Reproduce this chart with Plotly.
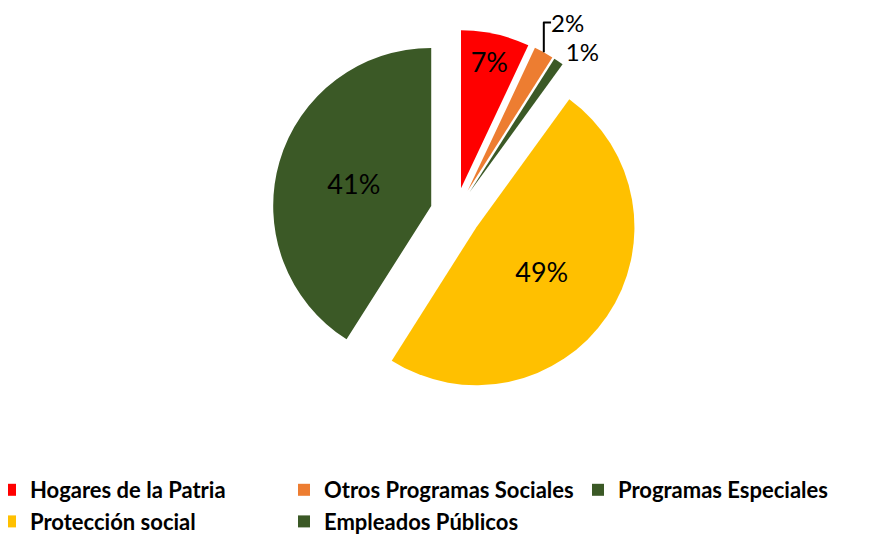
import plotly.graph_objects as go

labels = ["Hogares de la Patria", "Otros Programas Sociales", "Programas Especiales",
          "Protección social", "Empleados Públicos"]
values = [7, 2, 1, 49, 41]
colors = ["#FF0000", "#ED7D31", "#3B5926", "#FFC000", "#3B5926"]
positions = ["inside", "outside", "outside", "inside", "inside"]

W, H = 878, 541
MB = 80
PH = H - MB

fig = go.Figure()
fig.add_trace(go.Pie(
    labels=labels,
    values=values,
    sort=False,
    direction="clockwise",
    rotation=0,
    pull=0.16,
    marker=dict(colors=colors, line=dict(width=0)),
    texttemplate="%{percent:.0%}",
    textposition=positions,
    insidetextorientation="horizontal",
    textfont=dict(family="Lato, Liberation Sans, sans-serif", size=27, color="#000000"),
    outsidetextfont=dict(family="Lato, Liberation Sans, sans-serif", size=24, color="#000000"),
    domain=dict(x=[264.2 / W, 630.8 / W], y=[72.7 / PH, 439.3 / PH]),
    hoverinfo="label+percent",
))

fig.update_layout(
    width=W, height=H,
    margin=dict(l=0, r=0, t=0, b=MB, autoexpand=False),
    paper_bgcolor="white",
    plot_bgcolor="white",
    showlegend=True,
    legend=dict(
        orientation="h",
        x=-0.0205, xanchor="left",
        y=0, yanchor="top",
        font=dict(family="Lato, Liberation Sans, sans-serif", size=22, color="#000000", weight="bold"),
        entrywidth=249,
        entrywidthmode="pixels",
        traceorder="normal",
    ),
)

fig.write_html("out.html")
